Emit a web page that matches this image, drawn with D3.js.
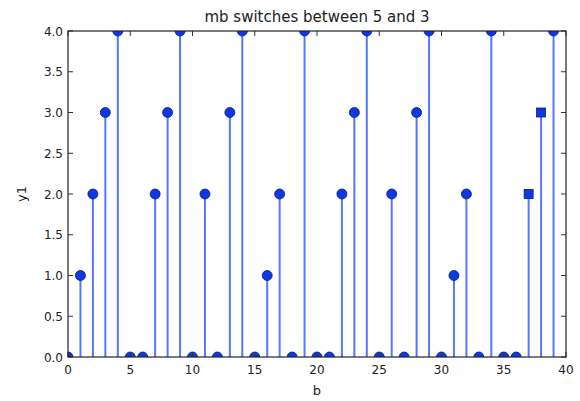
<!DOCTYPE html>
<html><head><meta charset="utf-8">
<script src="https://cdn.jsdelivr.net/npm/d3@7"></script>
<style>body{margin:0;background:#fff}svg{display:block}text{font-family:"DejaVu Sans",sans-serif;fill:#222}</style>
</head><body><svg id="c" width="580" height="401"></svg>
<script>
const xs = d3.range(0, 40);
const y1 = [0,1,2,3,4,0,0,2,3,4, 0,2,0,3,4,0,1,2,0,4, 0,0,2,3,4,0,2,0,3,4, 0,1,2,0,4,0,0,2,3,4];
const squareIdx = [37, 38];
const xTicks = [0,5,10,15,20,25,30,35,40];
const yTicks = [0,0.5,1,1.5,2,2.5,3,3.5,4];
const title = "mb switches between 5 and 3";

const W=580,H=401, m={l:68,r:14,t:31,b:44};
const svg=d3.select("#c");
const x=d3.scaleLinear().domain([0,40]).range([m.l,W-m.r]);
const y=d3.scaleLinear().domain([0,4]).range([H-m.b,m.t]);
svg.append("defs").append("clipPath").attr("id","clip").append("rect")
  .attr("x",m.l).attr("y",m.t).attr("width",W-m.l-m.r).attr("height",H-m.t-m.b);
const g=svg.append("g").attr("clip-path","url(#clip)");
const data=xs.map((d,i)=>({x:d,y:y1[i],sq:squareIdx.includes(d)}));
g.selectAll("line.stem").data(data).join("line").attr("class","stem")
  .attr("x1",d=>x(d.x)).attr("x2",d=>x(d.x)).attr("y1",y(0)).attr("y2",d=>y(d.y))
  .attr("stroke","#5577ff").attr("stroke-width",2);
g.selectAll("circle").data(data.filter(d=>!d.sq)).join("circle")
  .attr("cx",d=>x(d.x)).attr("cy",d=>y(d.y)).attr("r",5)
  .attr("fill","#1038e0").attr("stroke","#0a1a80").attr("stroke-width",0.8);
g.selectAll("rect.sq").data(data.filter(d=>d.sq)).join("rect").attr("class","sq")
  .attr("x",d=>x(d.x)-4.5).attr("y",d=>y(d.y)-4.5).attr("width",9).attr("height",9)
  .attr("fill","#1038e0").attr("stroke","#0a1a80").attr("stroke-width",0.8);

const ax=svg.append("g");
const tl=5;
xTicks.forEach(t=>{
  ax.append("line").attr("x1",x(t)).attr("x2",x(t)).attr("y1",y(0)).attr("y2",y(0)-tl).attr("stroke","#333");
  ax.append("line").attr("x1",x(t)).attr("x2",x(t)).attr("y1",y(4)).attr("y2",y(4)+tl).attr("stroke","#333");
  ax.append("text").attr("x",x(t)).attr("y",y(0)+17).attr("text-anchor","middle").attr("font-size",12).text(t);
});
yTicks.forEach(t=>{
  ax.append("line").attr("x1",x(0)).attr("x2",x(0)+tl).attr("y1",y(t)).attr("y2",y(t)).attr("stroke","#333");
  ax.append("line").attr("x1",x(40)).attr("x2",x(40)-tl).attr("y1",y(t)).attr("y2",y(t)).attr("stroke","#333");
  ax.append("text").attr("x",x(0)-5).attr("y",y(t)+4.5).attr("text-anchor","end").attr("font-size",12).text(t.toFixed(1));
});
ax.append("rect").attr("x",m.l).attr("y",m.t).attr("width",W-m.l-m.r).attr("height",H-m.t-m.b)
  .attr("fill","none").attr("stroke","#222").attr("stroke-width",1.2);
svg.append("text").attr("x",(m.l+W-m.r)/2).attr("y",22).attr("text-anchor","middle").attr("font-size",15).text(title);
svg.append("text").attr("x",(m.l+W-m.r)/2).attr("y",395).attr("text-anchor","middle").attr("font-size",13).text("b");
svg.append("text").attr("transform",`translate(26,${(m.t+H-m.b)/2}) rotate(-90)`).attr("text-anchor","middle").attr("font-size",13).text("y1");
</script></body></html>
